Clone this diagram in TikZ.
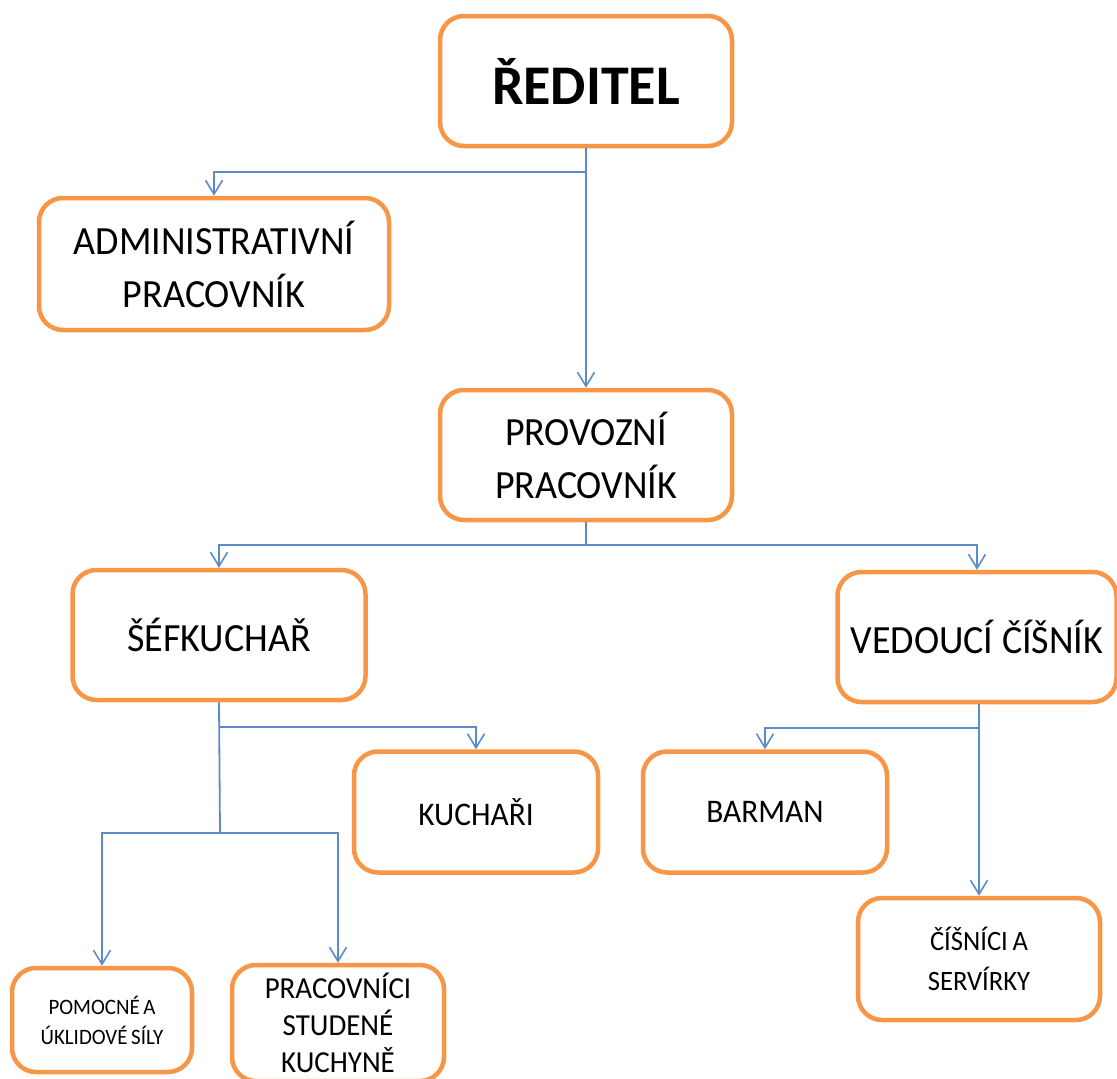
\documentclass[tikz,border=0pt]{standalone}
\usepackage{fontspec}
\setmainfont{Carlito}
\newfontfamily\narrowfont[FakeStretch=0.95]{Carlito}
\usetikzlibrary{arrows.meta}
\definecolor{boxorange}{HTML}{F79646}
\definecolor{linkblue}{HTML}{5B8BC9}
\tikzset{
  orgbox/.style={draw=boxorange, line width=4.5pt, rounded corners=24pt, fill=white,
    align=center, inner sep=0pt, text=black},
  conn/.style={draw=linkblue, line width=1.8pt},
  connarrow/.style={conn, -{Straight Barb[length=14pt,width=17pt,line width=1.6pt]}},
  bigtext/.style={font=\narrowfont\fontsize{40}{53}\selectfont},
  midtext/.style={font=\narrowfont\fontsize{33}{40}\selectfont},
  smalltext/.style={font=\narrowfont\fontsize{28}{40}\selectfont},
}
\begin{document}
\begin{tikzpicture}[x=1pt,y=-1pt]
\useasboundingbox (0,0) rectangle (1117,1079);
\node[orgbox, minimum width=292pt, minimum height=130pt, font=\fontsize{56}{60}\selectfont\bfseries] (dir) at (586,81) {ŘEDITEL};
\node[orgbox, bigtext, minimum width=350pt, minimum height=132pt] (adm) at (214,264) {ADMINISTRATIVNÍ\\PRACOVNÍK};
\node[orgbox, bigtext, minimum width=292pt, minimum height=130pt] (prov) at (586,455) {PROVOZNÍ\\PRACOVNÍK};
\node[orgbox, bigtext, minimum width=293pt, minimum height=130pt] (sef) at (219,635) {ŠÉFKUCHAŘ};
\node[orgbox, bigtext, minimum width=279pt, minimum height=130pt] (ved) at (977,637) {VEDOUCÍ ČÍŠNÍK};
\node[orgbox, midtext, minimum width=244pt, minimum height=121pt] (kuch) at (476,812) {KUCHAŘI};
\node[orgbox, midtext, minimum width=244pt, minimum height=121pt] (bar) at (765,812) {BARMAN};
\node[orgbox, smalltext, minimum width=242pt, minimum height=122pt] (cis) at (979,959) {ČÍŠNÍCI\,A\\SERVÍRKY};
\node[orgbox, font=\narrowfont\fontsize{22}{30}\selectfont, minimum width=180pt, minimum height=104pt] (pom) at (102,1020) {POMOCNÉ\,A\\ÚKLIDOVÉ\,SÍLY};
\node[orgbox, font=\narrowfont\fontsize{30.5}{37}\selectfont, minimum width=212pt, minimum height=116pt] (prac) at (338,1023) {PRACOVNÍCI\\STUDENÉ\\KUCHYNĚ};

\coordinate (j1) at (586,172);
\coordinate (j2) at (586,545);
\coordinate (j3) at (220,727);
\coordinate (j4) at (220,833);
\coordinate (j5) at (979,728);

\draw[conn] (dir.south) -- (j1);
\draw[connarrow] (j1) -| (adm.north);
\draw[connarrow] (j1) -- (prov.north);

\draw[conn] (prov.south) -- (j2);
\draw[connarrow] (j2) -| (sef.north);
\draw[connarrow] (j2) -| (ved.north);

\draw[conn] (sef.south) -- (j4);
\draw[connarrow] (j3) -| (kuch.north);
\draw[connarrow] (j4) -| (pom.north);
\draw[connarrow] (j4) -| (prac.north);

\draw[connarrow] (ved.south -| cis.north) -- (cis.north);
\draw[connarrow] (j5) -| (bar.north);
\end{tikzpicture}
\end{document}
